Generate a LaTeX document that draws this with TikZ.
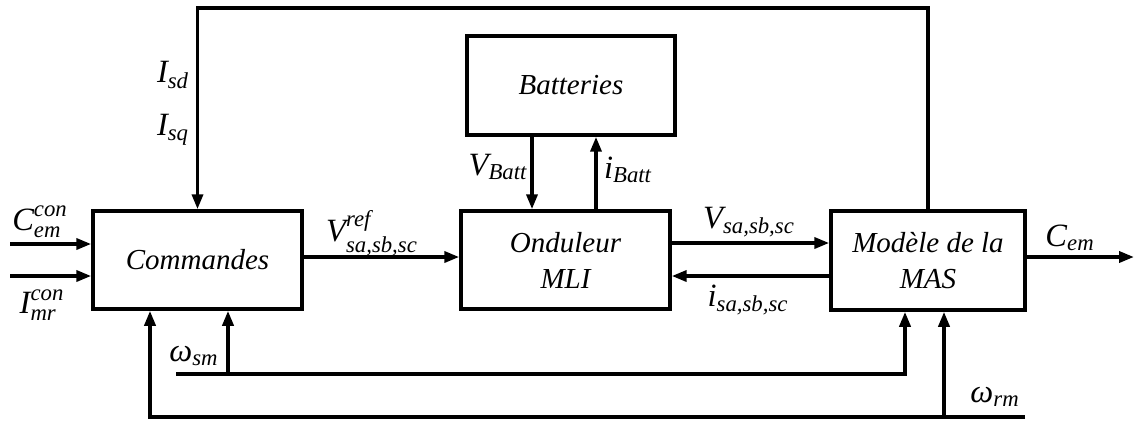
\documentclass[tikz,border=0pt]{standalone}
\usepackage{amsmath}
\usepackage{fontspec}
\setmainfont{Liberation Serif}
\usetikzlibrary{arrows.meta}
\tikzset{
  bloc/.style={draw, line width=2pt, align=center, inner sep=0pt,
    font=\fontsize{16.5}{20.5}\selectfont\itshape},
  fl/.style={line width=2pt, -{Triangle[length=0.3cm,width=0.22cm]}},
  lab/.style={inner sep=0pt, font=\fontsize{18.5}{22}\selectfont}
}
\newcommand{\sgu}[3]{$\textit{#1}_{\textit{#2}}^{\textit{#3}}$}
\newcommand{\sgb}[2]{$\textit{#1}_{\textit{#2}}$}
\begin{document}
\begin{tikzpicture}[x=0.02cm,y=-0.02cm]
\useasboundingbox (0,0) rectangle (1136,420);
% blocs
\node[bloc, minimum width=4.18cm, minimum height=1.96cm] (cmd) at (197.5,260) {Commandes};
\node[bloc, minimum width=4.18cm, minimum height=1.96cm] (ond) at (565.5,260) {Onduleur\\MLI};
\node[bloc, minimum width=3.88cm, minimum height=1.98cm] (mas) at (928,260.5) {Modèle de la\\MAS};
\node[bloc, minimum width=4.16cm, minimum height=1.98cm] (bat) at (571,85.5) {Batteries};
% points
\coordinate (cin1) at (10,244);
\coordinate (cin2) at (10,276);
\coordinate (vs) at (0,243);
\coordinate (is) at (0,276);
\coordinate (vb) at (532,0);
\coordinate (ib) at (596,0);
\coordinate (hc) at (928,8);
\coordinate (cout) at (1134,257);
\coordinate (wsl) at (176,374);
\coordinate (wsc) at (228,374);
\coordinate (wsr) at (905,374);
\coordinate (wrl) at (150,417);
\coordinate (wrm) at (944,417);
\coordinate (wrr) at (1025,417);
% liaisons
\draw[fl] (cin1) -- (cin1 -| cmd.west);
\draw[fl] (cin2) -- (cin2 -| cmd.west);
\draw[fl] (cmd.east |- 0,257) -- (ond.west |- 0,257);
\draw[fl] (ond.east |- vs) -- (mas.west |- vs);
\draw[fl] (mas.west |- is) -- (ond.east |- is);
\draw[fl] (bat.south -| vb) -- (ond.north -| vb);
\draw[fl] (ond.north -| ib) -- (bat.south -| ib);
\draw[fl] (mas.north) -- (hc) -| (cmd.north);
\draw[fl] (mas.east |- cout) -- (cout);
\draw[fl] (wsl) -- (wsr) -- (wsr |- mas.south);
\draw[fl] (wsc) -- (wsc |- cmd.south);
\draw[fl] (wrr) -- (wrl) -- (wrl |- cmd.south);
\draw[fl] (wrm) -- (wrm |- mas.south);
% labels
\node[lab] (lcem) at (40,222) {\sgu{C}{em}{con}};
\node[lab] (limr) at (42,305) {\sgu{I}{mr}{con}};
\node[lab] (lisd) at (173,75) {\sgb{I}{sd}};
\node[lab] (lisq) at (173,130) {\sgb{I}{sq}};
\node[lab] (lvref) at (372,233) {\sgu{V}{sa,sb,sc}{ref}};
\node[lab] (lvb) at (498,167) {\sgb{V}{Batt}};
\node[lab] (lib) at (628,170) {\sgb{i}{Batt}};
\node[lab] (lvs) at (749,222) {\sgb{V}{sa,sb,sc}};
\node[lab] (lis) at (748,300) {\sgb{i}{sa,sb,sc}};
\node[lab] (lce) at (1070,238) {\sgb{C}{em}};
\node[lab] (lws) at (194,356) {\sgb{ω}{sm}};
\node[lab] (lwr) at (995,397) {\sgb{ω}{rm}};
\end{tikzpicture}
\end{document}
